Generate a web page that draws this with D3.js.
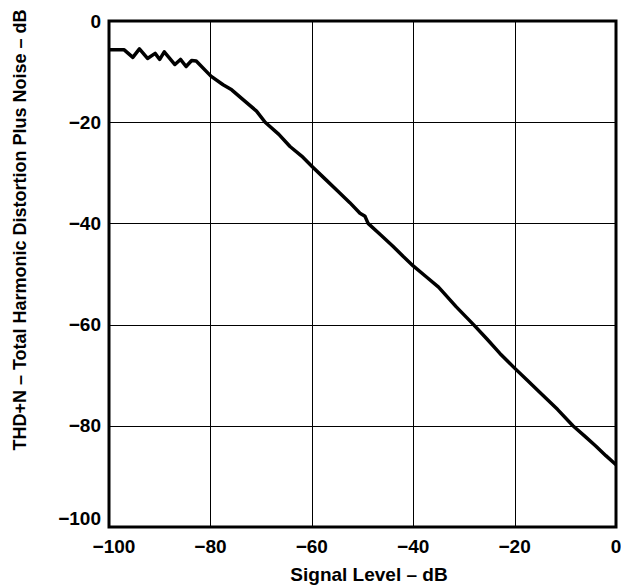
<!DOCTYPE html>
<html>
<head>
<meta charset="utf-8">
<script src="https://cdn.jsdelivr.net/npm/d3@7"></script>
<style>
  body { margin: 0; background: #fff; }
  text { font-family: "Liberation Sans", Arial, sans-serif; font-weight: bold; fill: #000; }
</style>
</head>
<body>
<div id="chart"></div>
<script>
"use strict";

// signal level (dB)
var signalLevel = [-100, -97, -95.3, -94, -92.4, -90.9, -90, -89.1, -87, -85.9, -84.8, -83.7, -82.8,
  -79.9, -77.5, -75.8, -73.5, -70.9, -69.2, -66.5, -64.3, -62, -60, -57.5, -55, -52.5, -50.5, -49.5,
  -48.9, -46.5, -44, -42, -40, -37.5, -35, -31.5, -28.1, -25.5, -22.9, -20, -17.5, -15, -11.5, -8.5,
  -6, -4, -2, 0];
// THD+N (dB)
var thdn = [-5.7, -5.7, -7.2, -5.5, -7.4, -6.4, -7.6, -6.1, -8.6, -7.6, -9.0, -7.8, -7.9,
  -10.9, -12.6, -13.6, -15.6, -17.8, -20.0, -22.4, -24.8, -26.7, -28.7, -31.1, -33.5, -35.9, -38.0, -38.6,
  -40.0, -42.2, -44.5, -46.5, -48.4, -50.5, -52.6, -56.5, -60.0, -62.8, -65.7, -68.6, -71.0, -73.4, -76.8, -80.0,
  -82.2, -84.0, -85.9, -87.7];

var xTicks = [-100, -80, -60, -40, -20, 0];
var yTicks = [0, -20, -40, -60, -80, -100];

var xTitle = "Signal Level \u2013 dB";
var yTitle = "THD+N \u2013 Total Harmonic Distortion Plus Noise \u2013 dB";

var W = 621, H = 586;
var margin = {left: 109, top: 21, right: 5, bottom: 59};
var pw = W - margin.left - margin.right, ph = H - margin.top - margin.bottom;

var svg = d3.select("#chart").append("svg")
    .attr("width", W).attr("height", H);
var g = svg.append("g")
    .attr("transform", "translate(" + margin.left + "," + margin.top + ")");

var x = d3.scaleLinear().domain([-100, 0]).range([0, pw]);
var y = d3.scaleLinear().domain([-100, 0]).range([ph, 0]);

// grid
g.append("g").selectAll("line").data(xTicks).enter().append("line")
    .attr("x1", function(d) { return Math.round(x(d)) + 0.5; })
    .attr("x2", function(d) { return Math.round(x(d)) + 0.5; })
    .attr("y1", 0).attr("y2", ph)
    .attr("stroke", "#000").attr("stroke-width", 1);
g.append("g").selectAll("line").data(yTicks).enter().append("line")
    .attr("y1", function(d) { return Math.round(y(d)) + 0.5; })
    .attr("y2", function(d) { return Math.round(y(d)) + 0.5; })
    .attr("x1", 0).attr("x2", pw)
    .attr("stroke", "#000").attr("stroke-width", 1);

// tick labels
g.append("g").selectAll("text").data(xTicks).enter().append("text")
    .attr("x", function(d) { return x(d) + (d === -100 ? 5 : 0); })
    .attr("y", ph + 26)
    .attr("text-anchor", "middle")
    .style("font-size", "19px")
    .text(function(d) { return d < 0 ? "\u2212" + Math.abs(d) : d; });
g.append("g").selectAll("text").data(yTicks).enter().append("text")
    .attr("x", -8)
    .attr("y", function(d) { return y(d) + (d === -100 ? -9 : 0); })
    .attr("dy", "0.35em")
    .attr("text-anchor", "end")
    .style("font-size", "19px")
    .text(function(d) { return d < 0 ? "\u2212" + Math.abs(d) : d; });

// curve
var line = d3.line()
    .x(function(d) { return x(d[0]); })
    .y(function(d) { return y(d[1]); });
g.append("path")
    .datum(d3.zip(signalLevel, thdn))
    .attr("d", line)
    .attr("fill", "none")
    .attr("stroke", "#000")
    .attr("stroke-width", 3.5)
    .attr("stroke-linejoin", "round");

// frame
g.append("rect")
    .attr("x", 0).attr("y", 0).attr("width", pw).attr("height", ph)
    .attr("fill", "none").attr("stroke", "#000").attr("stroke-width", 3);

// axis titles
svg.append("text")
    .attr("x", 369)
    .attr("y", 581)
    .attr("text-anchor", "middle")
    .style("font-size", "19px")
    .text(xTitle);
svg.append("text")
    .attr("transform", "translate(26,230) rotate(-90)")
    .attr("text-anchor", "middle")
    .style("font-size", "18px")
    .text(yTitle);
</script>
</body>
</html>
